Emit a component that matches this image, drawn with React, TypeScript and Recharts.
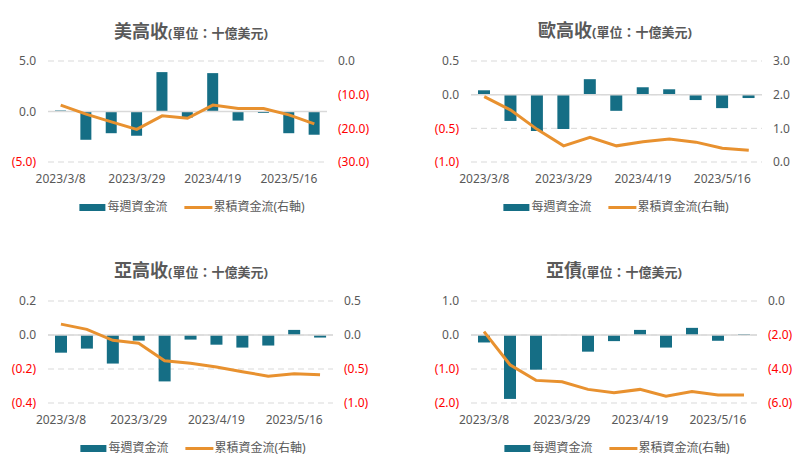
import { Bar, CartesianGrid, ComposedChart, Line, ReferenceLine, XAxis, YAxis } from "recharts"

const dates = [
  '2023/3/8', '2023/3/15', '2023/3/22', '2023/3/29', '2023/4/5', '2023/4/12',
  '2023/4/19', '2023/4/26', '2023/5/9', '2023/5/16', '2023/5/23'
]

// 美高收
const usWeekly = [0.1, -2.8, -2.15, -2.4, 3.9, -0.6, 3.8, -0.9, -0.15, -2.15, -2.3]
const usCum = [-13.1, -15.8, -18.1, -20.3, -16.3, -17.0, -13.1, -14.1, -14.1, -16.0, -18.7]

// 歐高收
const euWeekly = [0.065, -0.39, -0.54, -0.51, 0.23, -0.24, 0.11, 0.08, -0.08, -0.2, -0.05]
const euCum = [1.94, 1.54, 0.97, 0.48, 0.73, 0.48, 0.6, 0.68, 0.59, 0.41, 0.35]

// 亞高收
const asWeekly = [-0.104, -0.08, -0.168, -0.033, -0.273, -0.027, -0.057, -0.074, -0.062, 0.03, -0.015]
const asCum = [0.16, 0.083, -0.078, -0.12, -0.38, -0.415, -0.47, -0.54, -0.605, -0.57, -0.585]

// 亞債
const abWeekly = [-0.22, -1.88, -1.02, 0, -0.49, -0.18, 0.15, -0.37, 0.21, -0.17, 0.03]
const abCum = [-1.8, -3.75, -4.67, -4.75, -5.2, -5.4, -5.2, -5.6, -5.33, -5.53, -5.53]

const BAR = '#156E85'
const LINE = '#E8912F'
const GRAY = '#595959'
const FONT = '"Noto Sans", "Noto Sans CJK TC", sans-serif'

const fmt = (v: number) => (v < 0 ? `(${Math.abs(v).toFixed(1)})` : v.toFixed(1))

function Tick(props: any) {
  const { x, y, payload, textAnchor } = props
  const v = payload.value
  return (
    <text x={x} y={y} dy="0.35em" textAnchor={textAnchor} fontSize={12} fontFamily={FONT}
      fill={v < 0 ? '#FF0000' : GRAY}>
      {fmt(v)}
    </text>
  )
}

function Panel({ left, top, width, plot, title, weekly, cum, lDomain, lTicks, rDomain, rTicks, titleX, titleY, legendX, legendY, barSize }) {
  const data = dates.map((d, i) => ({ date: d, weekly: weekly[i], cum: cum[i] }))
  const [x1, x2, y1, y2] = plot
  return (
    <div style={{ position: 'absolute', left, top, width, height: 235 }}>
      <div style={{
        position: 'absolute', left: titleX, top: titleY, transform: 'translate(-50%, -50%)',
        whiteSpace: 'nowrap', color: GRAY, fontFamily: FONT, lineHeight: 1
      }}>
        <span style={{ fontSize: 18, fontWeight: 700 }}>{title}</span>
        <span style={{ fontSize: 13, fontWeight: 700 }}>(單位：十億美元)</span>
      </div>
      <ComposedChart width={width} height={y2 + 30} data={data}
        margin={{ top: y1, right: 0, bottom: 0, left: 0 }}>
        <CartesianGrid vertical={false} yAxisId="l" stroke="#D9D9D9" strokeDasharray="6 4" />
        <XAxis dataKey="date" interval={2} tickLine={false} axisLine={false} height={30}
          tickMargin={6} tick={{ fontSize: 12, fill: GRAY, fontFamily: FONT }} />
        <YAxis yAxisId="l" orientation="left" width={x1} domain={lDomain} ticks={lTicks}
          tickLine={false} axisLine={false} tickMargin={6} tick={<Tick />} />
        <YAxis yAxisId="r" orientation="right" width={width - x2} domain={rDomain} ticks={rTicks}
          tickLine={false} axisLine={false} tickMargin={5} tick={<Tick />} />
        <ReferenceLine yAxisId="l" y={0} stroke="#D9D9D9" strokeWidth={1.5} />
        <Bar yAxisId="l" dataKey="weekly" fill={BAR} barSize={barSize} isAnimationActive={false} />
        <Line yAxisId="r" dataKey="cum" stroke={LINE} strokeWidth={3} dot={false} type="linear"
          isAnimationActive={false} />
      </ComposedChart>
      <div style={{
        position: 'absolute', left: legendX, top: legendY, transform: 'translate(-50%, -50%)',
        display: 'flex', alignItems: 'center', whiteSpace: 'nowrap', color: GRAY,
        fontFamily: FONT, fontSize: 12, lineHeight: 1
      }}>
        <span style={{ display: 'inline-block', width: 26, height: 7, background: BAR, marginRight: 2 }} />
        <span>每週資金流</span>
        <span style={{ display: 'inline-block', width: 28, height: 3, background: LINE, marginLeft: 17, marginRight: 1 }} />
        <span>累積資金流(右軸)</span>
      </div>
    </div>
  )
}

export default function App() {
  return (
    <div style={{ position: 'absolute', left: 0, top: 0, width: 803, height: 471, background: '#fff' }}>
      <Panel left={0} top={0} width={400} plot={[48, 327, 61, 162]} title="美高收"
        weekly={usWeekly} cum={usCum} lDomain={[-5, 5]} lTicks={[-5, 0, 5]}
        rDomain={[-30, 0]} rTicks={[-30, -20, -10, 0]}
        titleX={191} titleY={31} legendX={192} legendY={207} barSize={11} />
      <Panel left={400} top={0} width={403} plot={[71, 362, 61, 162]} title="歐高收"
        weekly={euWeekly} cum={euCum} lDomain={[-1, 0.5]} lTicks={[-1, -0.5, 0, 0.5]}
        rDomain={[0, 3]} rTicks={[0, 1, 2, 3]}
        titleX={215} titleY={30} legendX={216} legendY={207} barSize={12} />
      <Panel left={0} top={235} width={400} plot={[48, 333, 66, 168]} title="亞高收"
        weekly={asWeekly} cum={asCum} lDomain={[-0.4, 0.2]} lTicks={[-0.4, -0.2, 0, 0.2]}
        rDomain={[-1, 0.5]} rTicks={[-1, -0.5, 0, 0.5]}
        titleX={191} titleY={35} legendX={193} legendY={213} barSize={12} />
      <Panel left={400} top={235} width={403} plot={[71, 357, 66, 168]} title="亞債"
        weekly={abWeekly} cum={abCum} lDomain={[-2, 1]} lTicks={[-2, -1, 0, 1]}
        rDomain={[-6, 0]} rTicks={[-6, -4, -2, 0]}
        titleX={214} titleY={35} legendX={217} legendY={213} barSize={12} />
    </div>
  )
}
